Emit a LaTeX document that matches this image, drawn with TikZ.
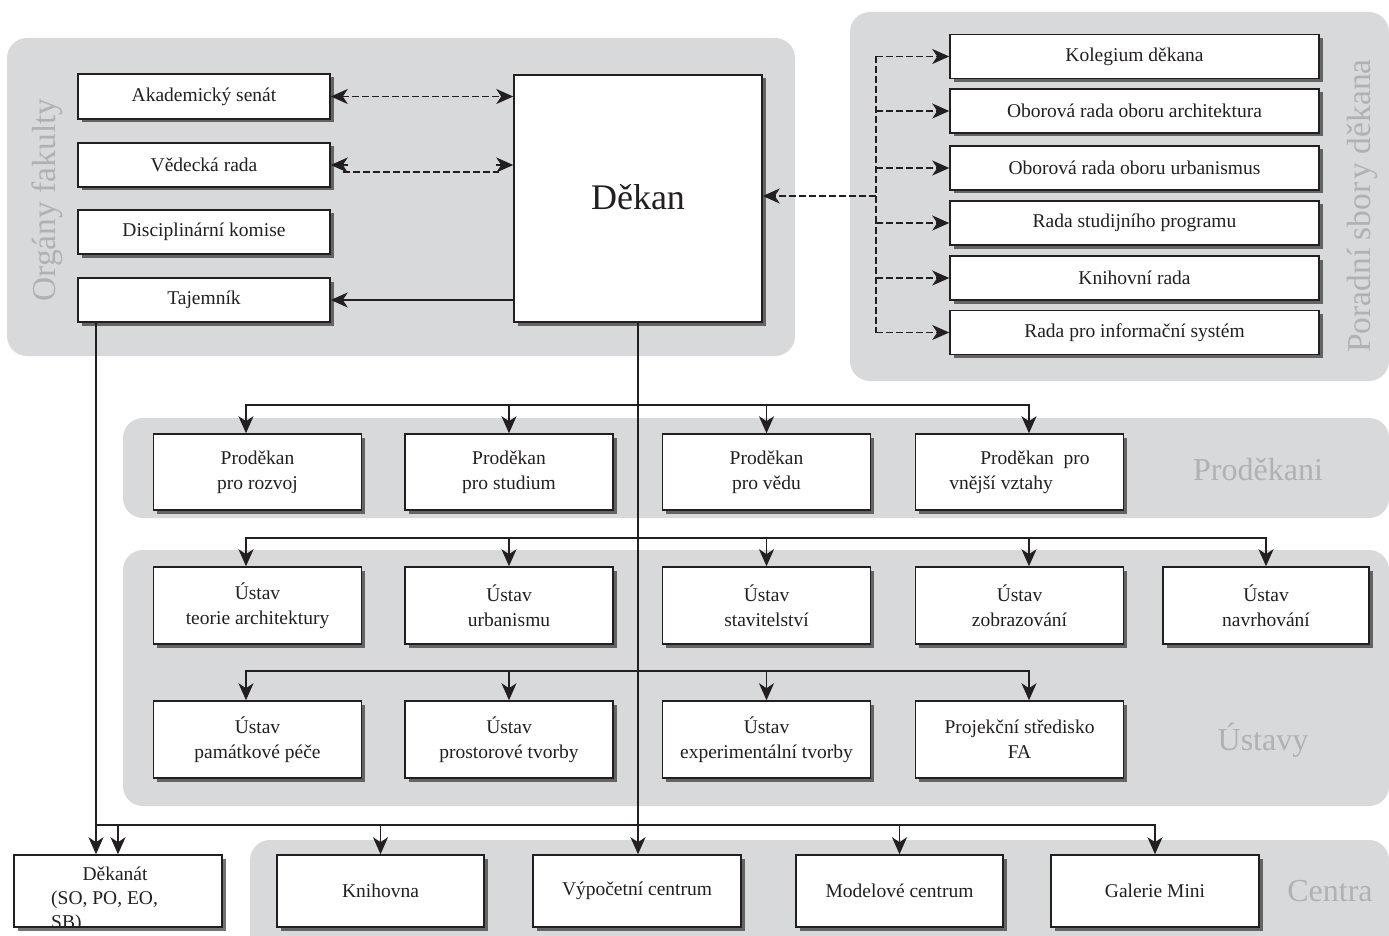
\documentclass[tikz,border=0pt]{standalone}
\usepackage{fontspec}
\setmainfont{Liberation Serif}
\usetikzlibrary{arrows.meta,shadows,calc}
\definecolor{panel}{RGB}{216,217,219}
\definecolor{lbl}{RGB}{176,177,179}
\definecolor{ink}{RGB}{35,31,32}
\tikzset{
  panelbox/.style={fill=panel, draw=none, rounded corners=20pt},
  box/.style={draw=ink, line width=1.5pt, fill=white, align=center, text=ink,
    font=\fontsize{19.5}{25}\selectfont, inner sep=2pt,
    drop shadow={shadow xshift=3.5pt, shadow yshift=-3.5pt, fill=black!85, opacity=0.65}},
  conn/.style={draw=ink, line width=1.6pt},
  dsh/.style={dash pattern=on 7pt off 3pt},
  glabel/.style={text=lbl, font=\fontsize{32}{36}\selectfont, inner sep=0pt},
  vlabel/.style={text=lbl, font=\fontsize{33.5}{36}\selectfont, inner sep=0pt, rotate=90},
  txt/.style={text=ink, font=\fontsize{19.5}{25}\selectfont, inner sep=0pt},
  tipE/.style={-{Stealth[length=17pt 0,width=15pt 0,inset=5pt 0]}},
  tipB/.style={{Stealth[length=17pt 0,width=15pt 0,inset=5pt 0]}-{Stealth[length=17pt 0,width=15pt 0,inset=5pt 0]}},
}
\begin{document}
\begin{tikzpicture}[x=1pt, y=-1pt]
\useasboundingbox (0,0) rectangle (1389,936);
\clip (0,0) rectangle (1389,936);

% ---------- panels ----------
\fill[panelbox] (7,38) rectangle (795,356);
\fill[panelbox] (850,12) rectangle (1389,381);
\fill[panelbox] (123,418) rectangle (1389,518);
\fill[panelbox] (123,550) rectangle (1389,806);
\fill[panelbox] (250,840) rectangle (1389,960);

% ---------- panel labels ----------
\node[vlabel] (lorg) at (47,200) {Orgány fakulty};
\node[vlabel] (lpor) at (1362,206) {Poradní sbor\kern3pt y děkana};
\node[glabel] (lpro) at (1258,470) {Proděkani};
\node[glabel] (lust) at (1263,740) {Ústavy};
\node[glabel] (lcen) at (1330,891) {Centra};

% ---------- left column ----------
\node[box, minimum width=252pt, minimum height=45pt] (as) at (204,96.5) {Akademický senát};
\node[box, minimum width=252pt, minimum height=44pt] (vr) at (204,165) {Vědecká rada};
\node[box, minimum width=252pt, minimum height=44pt] (dkom) at (204,232) {Disciplinární komise};
\node[box, minimum width=252pt, minimum height=44pt] (taj) at (204,300) {Tajemník};

% ---------- dean ----------
\node[box, minimum width=248pt, minimum height=247pt, font=\fontsize{36}{40}\selectfont] (dekan) at (638,198.5) {\raisebox{4pt}{Děkan}};

% ---------- advisory bodies ----------
\node[box, minimum width=369pt, minimum height=44pt] (kol) at (1134.5,56.5) {Kolegium děkana};
\node[box, minimum width=369pt, minimum height=44pt] (oa) at (1134.5,111) {Oborová rada oboru architektura};
\node[box, minimum width=369pt, minimum height=44pt] (ou) at (1134.5,168) {Oborová rada oboru urbanismus};
\node[box, minimum width=369pt, minimum height=44pt] (rs) at (1134.5,223) {Rada studijního programu};
\node[box, minimum width=369pt, minimum height=44pt] (kr) at (1134.5,278) {Knihovní rada};
\node[box, minimum width=369pt, minimum height=44pt] (ri) at (1134.5,332.5) {Rada pro informační systém};

% ---------- vice-deans ----------
\node[box, minimum width=208pt, minimum height=76pt] (p1) at (257.5,472) {Proděkan\\pro rozvoj};
\node[box, minimum width=208pt, minimum height=76pt] (p2) at (509,472) {Proděkan\\pro studium};
\node[box, minimum width=208pt, minimum height=76pt] (p3) at (766.5,472) {Proděkan\\pro vědu};
\node[box, minimum width=208pt, minimum height=76pt, align=left] (p4) at (1019.5,472) {\hspace*{31pt}Proděkan\ \ pro\\vnější vztahy};

% ---------- institutes ----------
\node[box, minimum width=208pt, minimum height=77pt] (u1) at (257.5,605.5) {Ústav\\teorie architektury};
\node[box, minimum width=208pt, minimum height=77pt] (u2) at (509,605.5) {Ústav\\urbanismu};
\node[box, minimum width=208pt, minimum height=77pt] (u3) at (766.5,605.5) {Ústav\\stavitelství};
\node[box, minimum width=208pt, minimum height=77pt] (u4) at (1019.5,605.5) {Ústav\\zobrazování};
\node[box, minimum width=206pt, minimum height=77pt] (u5) at (1266,605.5) {Ústav\\navrhování};
\node[box, minimum width=208pt, minimum height=77pt] (u6) at (257.5,739.5) {Ústav\\památkové péče};
\node[box, minimum width=208pt, minimum height=77pt] (u7) at (509,739.5) {Ústav\\prostorové tvorby};
\node[box, minimum width=208pt, minimum height=77pt] (u8) at (766.5,739.5) {Ústav\\experimentální tvorby};
\node[box, minimum width=208pt, minimum height=77pt] (u9) at (1019.5,739.5) {Projekční středisko\\FA};

% ---------- centres ----------
\node[box, minimum width=208pt, minimum height=72pt] (dek) at (118,891) {};
\begin{scope}
  \clip (dek.south west) rectangle (dek.north east);
  \node[txt, anchor=base] (dk1) at (115,880) {Děkanát};
  \node[txt, anchor=base west] (dk2) at (51,904) {(SO, PO, EO,};
  \node[txt, anchor=base west] (dk3) at (51,928) {SB)};
\end{scope}
\draw[draw=ink, line width=1.5pt] (14,855) rectangle (222,927);
\node[box, minimum width=207pt, minimum height=72pt] (kn) at (380.5,891) {Knihovna};
\node[box, minimum width=208pt, minimum height=72pt] (vc) at (637,891) {Výpočetní centrum};
\node[box, minimum width=207pt, minimum height=72pt] (mc) at (899.5,891) {Modelové centrum};
\node[box, minimum width=208pt, minimum height=72pt] (gm) at (1155,891) {Galerie Mini};

% ---------- connectors: faculty bodies ----------
\draw[conn, dsh, tipB] (as.east) -- (as.east -| dekan.west);
\draw[conn, dsh] ($(vr.east)+(12,7)$) -- ($(dekan.west |- vr.east)+(-14,7)$);
\draw[conn, tipE] ($(vr.east)+(17,0)$) -- (vr.east);
\draw[conn, tipE] ($(dekan.west |- vr.east)+(-17,0)$) -- (dekan.west |- vr.east);
\draw[conn, tipE] (dekan.west |- taj.east) -- (taj.east);

% ---------- connectors: advisory ----------
\coordinate (pb) at (876,196);
\draw[conn, dsh, tipE] (pb) -- (pb -| dekan.east);
\draw[conn, dsh] (pb |- kol.west) -- (pb |- ri.west);
\foreach \n in {kol,oa,ou,rs,kr,ri}
  \draw[conn, dsh, tipE] (pb |- \n.west) -- (\n.west);

% ---------- connectors: dean trunk ----------
\draw[conn, tipE] (dekan.south) -- (dekan.south |- vc.north);

% vice-deans
\coordinate (pA) at (246,405);
\coordinate (pB) at (1029,405);
\draw[conn, tipB] (pA |- p1.north) -- (pA) -- (pB) -- (pB |- p4.north);
\draw[conn, tipE] (p2.north |- pA) -- (p2.north);
\draw[conn, tipE] (p3.north |- pA) -- (p3.north);

% institutes row 1
\coordinate (uA) at (246,538);
\coordinate (uC) at (1029,538);
\draw[conn, tipB] (uA |- u1.north) -- (uA) -- (u5.north |- uA) -- (u5.north);
\draw[conn, tipE] (u2.north |- uA) -- (u2.north);
\draw[conn, tipE] (u3.north |- uA) -- (u3.north);
\draw[conn, tipE] (uC) -- (uC |- u4.north);

% institutes row 2
\coordinate (vA) at (246,671);
\coordinate (vB) at (1029,671);
\draw[conn, tipB] (vA |- u6.north) -- (vA) -- (vB) -- (vB |- u9.north);
\draw[conn, tipE] (u7.north |- vA) -- (u7.north);
\draw[conn, tipE] (u8.north |- vA) -- (u8.north);

% secretary trunk and centres
\coordinate (tj) at (96,825);
\draw[conn, tipE] (taj.south -| tj) -- (tj |- dek.north);
\draw[conn, tipE] (tj) -- (gm.north |- tj) -- (gm.north);
\draw[conn, tipE] (dek.north |- tj) -- (dek.north);
\draw[conn, tipE] (kn.north |- tj) -- (kn.north);
\draw[conn, tipE] (mc.north |- tj) -- (mc.north);
\end{tikzpicture}
\end{document}
